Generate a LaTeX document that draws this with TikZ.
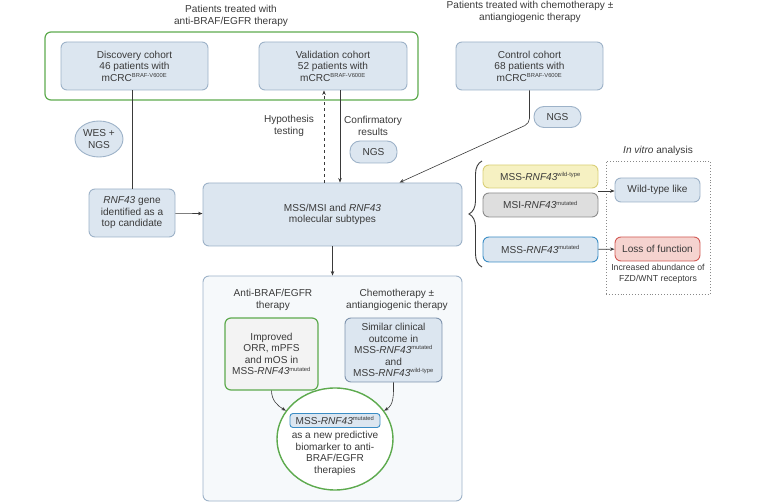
\documentclass[tikz,border=0pt]{standalone}
\usepackage{fontspec}
\setmainfont{Liberation Sans}
\usetikzlibrary{positioning,shapes.geometric,decorations.pathreplacing,arrows.meta}

\definecolor{txt}{HTML}{3A3A3A}
\definecolor{boxfill}{HTML}{DCE6F0}
\definecolor{boxline}{HTML}{9DB2C8}
\definecolor{simline}{HTML}{7E93AD}
\definecolor{grn}{HTML}{5DAA4E}
\definecolor{yelfill}{HTML}{F6F1C2}
\definecolor{yelline}{HTML}{D9CF78}
\definecolor{gryfill}{HTML}{DEDEDE}
\definecolor{gryline}{HTML}{8C8C8C}
\definecolor{bluline}{HTML}{3B8DC5}
\definecolor{redfill}{HTML}{F5D3CF}
\definecolor{redline}{HTML}{D25A55}

\newcommand{\sups}[1]{\textsuperscript{\fontsize{5.8}{6}\selectfont #1}}
\newcommand{\mcrc}{mCRC\sups{BRAF-V600E}}

\begin{document}
\begin{tikzpicture}[x=1pt,y=-1pt,
every node/.style={font=\fontsize{10.1}{11.5}\selectfont,text=txt},
box/.style={draw=boxline,fill=boxfill,rounded corners=6pt,align=center,line width=0.9pt,inner sep=1.5pt},
pill/.style={box,rounded corners=10pt},
grnbox/.style={draw=grn,rounded corners=6pt,line width=1.2pt,align=center,inner sep=1.5pt},
tag/.style={align=center},
small/.style={font=\fontsize{8.7}{10.8}\selectfont},
conn/.style={draw=txt,line width=0.6pt},
arr/.style={conn,-{Stealth[length=4.5pt,width=3.5pt]}}]
\useasboundingbox (0,0) rectangle (758,502);

\node (grp) [grnbox,minimum width=373pt,minimum height=68pt] at (231.5,66) {};
\node (ttla) [tag] at (231,16) {Patients treated with\\anti-BRAF/EGFR therapy};
\node (ttlb) [tag] at (530,12) {Patients treated with chemotherapy ±\\antiangiogenic therapy};
\node (disc) [box,minimum width=147pt,minimum height=48pt] at (134.5,66) {Discovery cohort\\46 patients with\\\mcrc};
\node (valid) [box,minimum width=148pt,minimum height=48pt] at (333,66) {Validation cohort\\52 patients with\\\mcrc};
\node (ctrl) [box,minimum width=147pt,minimum height=48pt] at (529.5,66) {Control cohort\\68 patients with\\\mcrc};

\node (wes) [box,ellipse,minimum width=48pt,minimum height=36pt,inner sep=0pt] at (99,139) {WES +\\NGS};
\node (rnf) [box,minimum width=86pt,minimum height=48pt] at (132,213) {\textit{RNF43} gene\\identified as a\\top candidate};
\node (mss) [box,minimum width=259pt,minimum height=63pt] at (332.5,214.5) {MSS/MSI and \textit{RNF43}\\molecular subtypes};
\node (hyp) [tag] at (289,126) {Hypothesis\\testing};
\node (conf) [tag] at (373,126) {Confirmatory\\results};
\node (ngsa) [pill,minimum width=47pt,minimum height=22pt] at (373.5,152) {NGS};
\node (ngsb) [pill,minimum width=47pt,minimum height=21pt] at (557.5,117) {NGS};

\node (wt) [box,draw=yelline,fill=yelfill,minimum width=115pt,minimum height=23pt] at (540.5,176.5) {MSS-\textit{RNF43}\sups{wild-type}};
\node (msi) [box,draw=gryline,fill=gryfill,minimum width=115pt,minimum height=24pt] at (540.5,205) {MSI-\textit{RNF43}\sups{mutated}};
\node (mut) [box,draw=bluline,minimum width=115pt,minimum height=25pt] at (540.5,249.5) {MSS-\textit{RNF43}\sups{mutated}};
\coordinate (bt) at (482,161);
\coordinate (bb) at (482,267);
\draw[conn,line width=0.9pt,decorate,decoration={brace,amplitude=13pt}] (bb) -- (bt);

\node (vitro) [draw=txt!60,dotted,line width=0.9pt,minimum width=104pt,minimum height=133pt] at (658,227.5) {};
\node (vitrot) [tag,above=1pt of vitro] {\textit{In vitro} analysis};
\node (wtl) [box,minimum width=85pt,minimum height=24pt] at (657.5,190) {Wild-type like};
\node (lof) [box,draw=redline,fill=redfill,minimum width=85pt,minimum height=24pt] at (657.5,249) {Loss of function};
\node (incr) [tag,small] at (658,274) {Increased abundance of\\FZD/WNT receptors};
\coordinate (pair) at (598,191);

\node (outc) [box,fill=boxfill!25,minimum width=259pt,minimum height=225pt] at (332.5,388.5) {};
\node (antit) [tag] at (273,300) {Anti-BRAF/EGFR\\therapy};
\node (chemt) [tag] at (397,300) {Chemotherapy ±\\antiangiogenic therapy};
\node (impr) [grnbox,fill=gryfill!35,minimum width=93pt,minimum height=72pt] at (271.5,354) {Improved\\ORR, mPFS\\and mOS in\\MSS-\textit{RNF43}\sups{mutated}};
\node (sim) [box,draw=simline,minimum width=97pt,minimum height=64pt] at (393.5,350) {Similar clinical\\outcome in\\MSS-\textit{RNF43}\sups{mutated}\\and\\MSS-\textit{RNF43}\sups{wild-type}};
\node (ell) [ellipse,draw=grn,line width=1.4pt,fill=white,minimum width=116pt,minimum height=102pt] at (335,439) {};
\node (bmk) [box,draw=bluline,minimum width=90pt,minimum height=14pt,inner sep=1pt,rounded corners=3pt] at (335,420.5) {MSS-\textit{RNF43}\sups{mutated}};
\node (bmkt) [tag,below=0pt of bmk] {as a new predictive\\biomarker to anti-\\BRAF/EGFR\\therapies};

\draw[conn] (rnf.north |- disc.south) -- (rnf.north);
\draw[arr] (rnf) -- (mss);
\draw[arr] ([xshift=7pt]valid.south) -- ([xshift=7pt]valid.south |- mss.north);
\draw[arr,dashed] ([xshift=-8.5pt]mss.north) -- ([xshift=-8.5pt]mss.north |- valid.south);
\draw[arr,rounded corners=5pt] (ctrl.south) -- ++(0,33) -- ([xshift=67pt]mss.north);
\draw[arr] (mss) -- (outc);
\draw[arr] (pair) -- (wtl.west |- pair);
\draw[arr] (mut) -- (lof);
\draw[arr] (impr.south) to[out=-90,in=150] (ell.150);
\draw[arr] (sim.south) to[out=-90,in=30] (ell.30);

\end{tikzpicture}
\end{document}
